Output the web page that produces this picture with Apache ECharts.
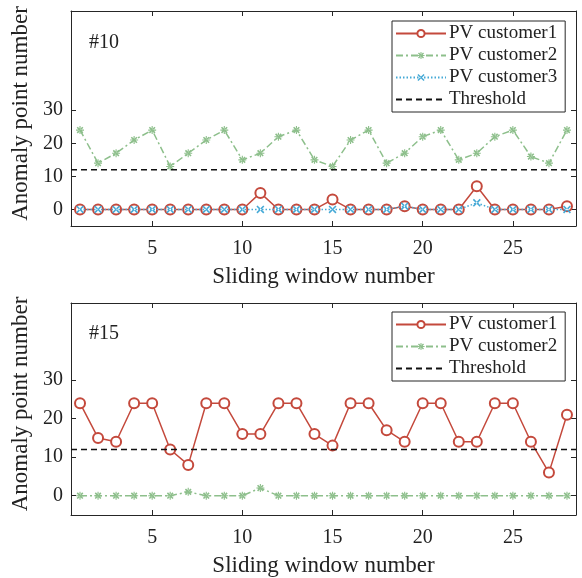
<!DOCTYPE html>
<html>
<head>
<meta charset="utf-8">
<script src="https://cdn.jsdelivr.net/npm/echarts@6/dist/echarts.min.js"></script>
<style>
  html, body { margin: 0; padding: 0; background: #fff; }
  #chart { width: 582px; height: 578px; }
</style>
</head>
<body>
<div id="chart"></div>
<script>
// sliding window numbers
const windows = [1,2,3,4,5,6,7,8,9,10,11,12,13,14,15,16,17,18,19,20,21,22,23,24,25,26,27,28];
// #10 anomaly counts
const c1_10 = [0,0,0,0,0,0,0,0,0,0,5,0,0,0,3,0,0,0,1,0,0,0,7,0,0,0,0,1];
const c2_10 = [24,14,17,21,24,13,17,21,24,15,17,22,24,15,13,21,24,14,17,22,24,15,17,22,24,16,14,24];
const c3_10 = [0,0,0,0,0,0,0,0,0,0,0,0,0,0,0,0,0,0,1,0,0,0,2,0,0,0,0,0];
// #15 anomaly counts
const c1_15 = [24,15,14,24,24,12,8,24,24,16,16,24,24,16,13,24,24,17,14,24,24,14,14,24,24,14,6,21];
const c2_15 = [0,0,0,0,0,0,1,0,0,0,2,0,0,0,0,0,0,0,0,0,0,0,0,0,0,0,0,0];
const threshold = 12;
const xTicks = [5, 10, 15, 20, 25];
const yTicks = [0, 10, 20, 30];
const xLim = [0.5, 28.5];

const FONT = "'Liberation Serif', 'Times New Roman', serif";
const RED = '#C4493C';
const GREEN = '#8DBF8B';
const BLUE = '#45A9D6';
const AXIS = '#262626';

const ASTERISK = 'path://M-0.7,-5L0.7,-5L0.7,5L-0.7,5ZM-5,-0.7L5,-0.7L5,0.7L-5,0.7ZM-2.8,-4.2L4.2,2.8L2.8,4.2L-4.2,-2.8ZM-2.8,4.2L4.2,-2.8L2.8,-4.2L-4.2,2.8Z';
const CROSS = 'path://M-3.6,-5L5,3.6L3.6,5L-5,-3.6ZM-3.6,5L5,-3.6L3.6,-5L-5,3.6Z';

const pairs = (ys) => windows.map((x, i) => [x, ys[i]]);

const chart = echarts.init(document.getElementById('chart'));

const grids = [
  { left: 71, top: 11, width: 505, height: 215 },
  { left: 71, top: 303, width: 505, height: 214 }
];
const yMax = [60, 50];

const xAxes = [];
const yAxes = [];
grids.forEach((g, gi) => {
  const tick = { show: true, inside: true, length: 5, lineStyle: { color: AXIS } };
  const line = { show: true, onZero: false, lineStyle: { color: AXIS, width: 1 } };
  xAxes.push({
    type: 'value', gridIndex: gi, min: xLim[0], max: xLim[1], position: 'bottom',
    axisLine: line,
    axisTick: Object.assign({ customValues: xTicks }, tick),
    axisLabel: { customValues: xTicks, color: '#222', fontFamily: FONT, fontSize: 20, margin: 13 },
    splitLine: { show: false },
    name: 'Sliding window number', nameLocation: 'middle', nameGap: 39,
    nameTextStyle: { color: '#222', fontFamily: FONT, fontSize: 23 }
  });
  xAxes.push({
    type: 'value', gridIndex: gi, min: xLim[0], max: xLim[1], position: 'top',
    axisLine: line,
    axisTick: Object.assign({ customValues: xTicks }, tick),
    axisLabel: { show: false }, splitLine: { show: false }
  });
  yAxes.push({
    type: 'value', gridIndex: gi, min: -5, max: yMax[gi], position: 'left',
    axisLine: line,
    axisTick: Object.assign({ customValues: yTicks }, tick),
    axisLabel: { customValues: yTicks, color: '#222', fontFamily: FONT, fontSize: 20, margin: 8 },
    splitLine: { show: false },
    name: 'Anomaly point number', nameLocation: 'middle', nameGap: 37,
    nameTextStyle: { color: '#222', fontFamily: FONT, fontSize: 23, padding: [0, 0, 0, 10] }
  });
  yAxes.push({
    type: 'value', gridIndex: gi, min: -5, max: yMax[gi], position: 'right',
    axisLine: line,
    axisTick: Object.assign({ customValues: yTicks }, tick),
    axisLabel: { show: false }, splitLine: { show: false }
  });
});

function c1(gi, data) {
  return {
    name: 'PV customer1', type: 'line', xAxisIndex: gi * 2, yAxisIndex: gi * 2,
    data: pairs(data), symbol: 'emptyCircle', symbolSize: 10,
    lineStyle: { color: RED, width: 1.5 },
    itemStyle: { color: RED, borderColor: RED, borderWidth: 1.5 },
    animation: false, z: 2
  };
}
function c2(gi, data) {
  return {
    name: 'PV customer2', type: 'line', xAxisIndex: gi * 2, yAxisIndex: gi * 2,
    data: pairs(data), symbol: ASTERISK, symbolSize: 8,
    lineStyle: { color: GREEN, width: 1.5, type: [7, 3, 2, 3] },
    itemStyle: { color: GREEN },
    animation: false, z: 3
  };
}
function c3(gi, data) {
  return {
    name: 'PV customer3', type: 'line', xAxisIndex: gi * 2, yAxisIndex: gi * 2,
    data: pairs(data), symbol: CROSS, symbolSize: 8,
    lineStyle: { color: BLUE, width: 1.5, type: [1.5, 2] },
    itemStyle: { color: BLUE },
    animation: false, z: 4
  };
}
function th(gi) {
  return {
    name: 'Threshold', type: 'line', xAxisIndex: gi * 2, yAxisIndex: gi * 2,
    data: [[xLim[0], threshold], [xLim[1], threshold]], symbol: 'none',
    lineStyle: { color: '#111', width: 1.5, type: [6, 4] },
    itemStyle: { color: '#111' },
    animation: false, z: 5
  };
}

const legendBase = {
  orient: 'vertical', left: 392, itemWidth: 50, itemHeight: 9, itemGap: 3,
  backgroundColor: '#fff', borderColor: AXIS, borderWidth: 1, borderRadius: 0,
  padding: [3, 8, 3, 3], selectedMode: false,
  textStyle: { color: '#222', fontFamily: FONT, fontSize: 19, lineHeight: 19, padding: [0, 0, 0, -2] }
};
const thItem = { name: 'Threshold', itemStyle: { opacity: 0 } };

chart.setOption({
  backgroundColor: '#fff',
  animation: false,
  grid: grids,
  xAxis: xAxes,
  yAxis: yAxes,
  legend: [
    Object.assign({ top: 21, data: ['PV customer1', 'PV customer2', 'PV customer3', thItem] }, legendBase),
    Object.assign({ top: 312, data: ['PV customer1', 'PV customer2', thItem] }, legendBase)
  ],
  graphic: [
    { type: 'text', left: 89, top: 33, style: { text: '#10', font: "20px " + FONT, fill: '#222' } },
    { type: 'text', left: 89, top: 324, style: { text: '#15', font: "20px " + FONT, fill: '#222' } }
  ],
  series: [
    c1(0, c1_10), c2(0, c2_10), c3(0, c3_10), th(0),
    c1(1, c1_15), c2(1, c2_15), th(1)
  ]
});
</script>
</body>
</html>
